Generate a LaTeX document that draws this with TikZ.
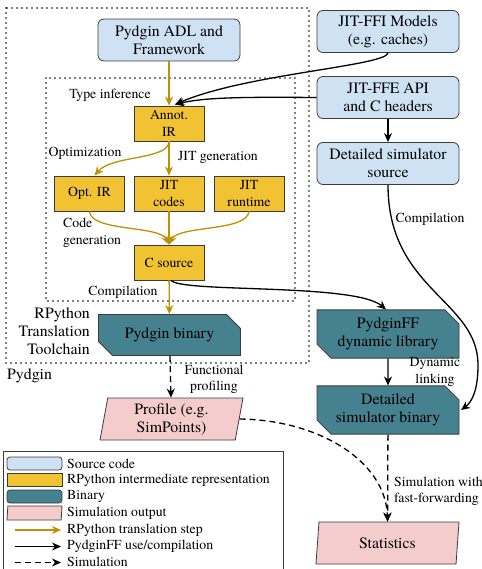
\documentclass[tikz,border=0pt]{standalone}
\usepackage{fontspec}
\setmainfont{TeX Gyre Termes}
\newfontfamily\timesfont{TeX Gyre Termes}
\usetikzlibrary{shapes.misc,shapes.geometric,arrows.meta,calc}
\definecolor{srcblue}{HTML}{CFE2F3}
\definecolor{irgold}{HTML}{F1C232}
\definecolor{arrgold}{HTML}{BF9000}
\definecolor{binteal}{HTML}{45818E}
\definecolor{outpink}{HTML}{F4CCCC}
\definecolor{edgegray}{HTML}{3C3C3C}
\begin{document}
\begin{tikzpicture}[x=1pt,y=-1pt,
  bigfont/.style={font=\timesfont\fontsize{15.8}{18}\selectfont},
  smallfont/.style={font=\timesfont\fontsize{13.8}{16.5}\selectfont},
  srcbox/.style={draw=edgegray, fill=srcblue, rounded corners=6pt, minimum width=142pt, minimum height=42pt, align=center, bigfont, inner sep=1pt, line width=0.8pt},
  irbox/.style={draw=edgegray, fill=irgold, minimum width=70pt, minimum height=35pt, align=center, smallfont, inner sep=1pt, line width=0.8pt},
  binbox/.style={chamfered rectangle, chamfered rectangle corners={north east,south west}, chamfered rectangle xsep=7pt, chamfered rectangle ysep=7pt, draw=edgegray, fill=binteal, minimum width=142pt, minimum height=41pt, align=center, bigfont, inner sep=1pt, line width=0.8pt},
  outbox/.style={trapezium, trapezium left angle=77, trapezium right angle=103, trapezium stretches body, draw=edgegray, fill=outpink, minimum width=143pt, minimum height=42pt, align=center, bigfont, inner sep=1pt, line width=0.8pt},
  lbl/.style={smallfont, inner sep=0pt, align=center},
  goldarr/.style={draw=arrgold, line width=1.3pt, -{Stealth[length=9pt,width=8pt]}},
  blkarr/.style={draw=black, line width=1.3pt, -{Stealth[length=9pt,width=8pt]}},
  simarr/.style={blkarr, dash pattern=on 6pt off 4pt},
  dotline/.style={draw=black, line width=1.8pt, dash pattern=on 0pt off 5pt, line cap=round}
]
\useasboundingbox (0,0) rectangle (481,569);

% dotted boxes
\draw[dotline] (6,8) rectangle (309,363);
\draw[dotline] (46,78) rectangle (295,301);

% nodes
\node[srcbox] (adl) at (169,40) {Pydgin ADL and\\Framework};
\node[srcbox] (ffi) at (388,31.5) {JIT-FFI Models\\(e.g. caches)};
\node[srcbox] (ffe) at (388,97.5) {JIT-FFE API\\and C headers};
\node[srcbox] (dss) at (388,163.5) {Detailed simulator\\source};
\node[irbox] (annot) at (169,123.5) {Annot.\\IR};
\node[irbox] (opt) at (89.5,193.5) {Opt. IR};
\node[irbox] (jitc) at (169,193.5) {JIT\\codes};
\node[irbox] (jitr) at (249,193.5) {JIT\\runtime};
\node[irbox] (csrc) at (169,262.5) {C source};
\node[binbox] (pbin) at (169.5,335) {Pydgin binary};
\node[binbox] (pff) at (388,334) {PydginFF\\dynamic library};
\node[binbox] (dsb) at (388,410) {Detailed\\simulator binary};
\node[outbox] (prof) at (171.5,419) {Profile (e.g.\\SimPoints)};
\node[outbox] (stat) at (387.5,543) {Statistics};

% labels
\node[lbl] (ltype) at (110,95) {Type inference};
\node[lbl] (lopt) at (85,153) {Optimization};
\node[lbl] (ljit) at (218,157.5) {JIT generation};
\node[lbl, align=left, anchor=west] (lcode) at (63,233) {Code\\generation};
\node[lbl] (lcomp1) at (123,292) {Compilation};
\node[lbl] (lcomp2) at (430,219.5) {Compilation};
\node[lbl] (ldyn) at (435,372) {Dynamic\\linking};
\node[lbl] (lfun) at (214,379.5) {Functional\\profiling};
\node[lbl, align=left, anchor=west] (lsim) at (394,491.5) {Simulation with\\fast-forwarding};
\node[bigfont, inner sep=0pt, align=right, anchor=east] (lrpy) at (90,331) {RPython\\Translation\\Toolchain};
\node[bigfont, inner sep=0pt, anchor=west] (lpyd) at (7,376) {Pydgin};

% connectors
\coordinate (ain) at (175,104.5);
\draw[goldarr] (adl) -- (annot);
\draw[blkarr] (ffi.south) .. controls (386,66) and (245,74) .. (ain);
\draw[blkarr] (ffe.west) .. controls (250,97) and (205,97) .. (ain);
\draw[blkarr] (ffe) -- (dss);
\draw[goldarr] (annot.south) .. controls (169,160) and (112,155) .. ([xshift=5pt]opt.north);
\draw[goldarr] (annot) -- (jitc);
\draw[goldarr] (opt.south) .. controls (91,232) and (160,225) .. (csrc.north);
\draw[goldarr] (jitr.south) .. controls (247,232) and (178,225) .. (csrc.north);
\draw[goldarr] (jitc) -- (csrc);
\draw[goldarr] (csrc) -- (pbin);
\draw[blkarr] ([xshift=2pt]csrc.south) .. controls (182,293) and (355,283) .. ([xshift=-2pt]pff.north);
\coordinate (dbend) at (478,365);
\draw[blkarr] (dss.south) .. controls (388,290) and (478,300) .. (dbend) .. controls (478,390) and (472,402) .. (461,410);
\draw[blkarr] (pff) -- (dsb);
\draw[simarr] (pbin) -- (prof);
\draw[simarr] (prof.east) .. controls (320,420) and (386,462) .. (stat.north);
\draw[simarr] (dsb) -- (stat);

% legend
\node[draw=edgegray, line width=0.8pt, minimum width=280pt, minimum height=130pt, anchor=north west, inner sep=0pt] (legend) at (3,451) {};
\node[srcbox, minimum width=55pt, minimum height=13pt, rounded corners=3pt] (ls1) at (34.5,463.5) {};
\node[irbox, minimum width=55pt, minimum height=13pt] (ls2) at (34.5,479.5) {};
\node[srcbox, fill=binteal, minimum width=55pt, minimum height=13pt, rounded corners=3pt] (ls3) at (34.5,496.5) {};
\node[outbox, trapezium left angle=67, trapezium right angle=113, minimum width=55pt, minimum height=14pt] (ls4) at (34.5,513) {};
\coordinate (la1s) at (15,530); \coordinate (la1e) at (61,530);
\coordinate (la2s) at (15,546.5); \coordinate (la2e) at (61,546.5);
\coordinate (la3s) at (15,562.5); \coordinate (la3e) at (61,562.5);
\draw[goldarr] (la1s) -- (la1e);
\draw[blkarr] (la2s) -- (la2e);
\draw[simarr] (la3s) -- (la3e);
\node[lbl, anchor=west] (lt1) at (67,463.5) {Source code};
\node[lbl, anchor=west] (lt2) at (67,480) {RPython intermediate representation};
\node[lbl, anchor=west] (lt3) at (67,496.5) {Binary};
\node[lbl, anchor=west] (lt4) at (67,513) {Simulation output};
\node[lbl, anchor=west] (lt5) at (67,530) {RPython translation step};
\node[lbl, anchor=west] (lt6) at (67,546.5) {PydginFF use/compilation};
\node[lbl, anchor=west] (lt7) at (67,562) {Simulation};
\end{tikzpicture}
\end{document}
